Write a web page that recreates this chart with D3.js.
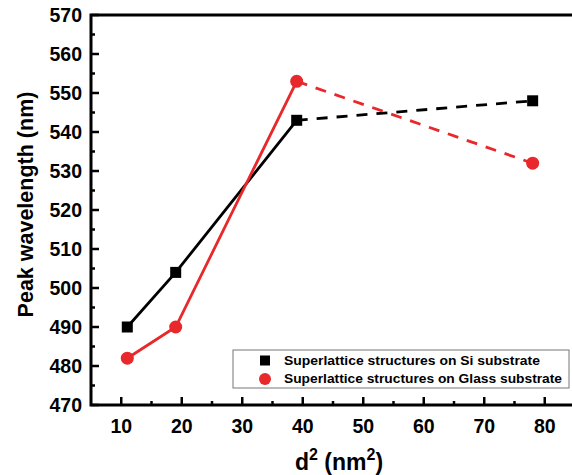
<!DOCTYPE html>
<html>
<head>
<meta charset="utf-8">
<script src="https://cdn.jsdelivr.net/npm/d3@7"></script>
<style>
  body { margin: 0; background: #fff; }
  svg { font-family: "Liberation Sans", Arial, sans-serif; font-weight: bold; }
</style>
</head>
<body>
<div id="chart"></div>
<script>
// data
const dSquared = [11, 19, 39, 78]
const siPeak = [490, 504, 543, 548]
const glassPeak = [482, 490, 553, 532]
const xTicks = [10, 20, 30, 40, 50, 60, 70, 80]
const yTicks = [470, 480, 490, 500, 510, 520, 530, 540, 550, 560, 570]
const legendLabels = ['Superlattice structures on Si substrate', 'Superlattice structures on Glass substrate']

const W = 572, H = 475
const margin = {top: 15, right: -3, bottom: 70, left: 91}
const red = '#e8282b'

const svg = d3.select('#chart').append('svg')
    .attr('width', W)
    .attr('height', H)

const x = d3.scaleLinear().domain([5, 85]).range([margin.left, W - margin.right])
const y = d3.scaleLinear().domain([470, 570]).range([H - margin.bottom, margin.top])

// minor ticks every 5
const xMinor = d3.range(15, 85, 10)
const yMinor = d3.range(475, 570, 10)

const g = svg.append('g')

// major ticks (inward)
g.selectAll('line.xt').data(xTicks).enter().append('line')
    .attr('x1', d => x(d)).attr('x2', d => x(d))
    .attr('y1', y(470)).attr('y2', y(470) - 8)
    .attr('stroke', '#000').attr('stroke-width', 2.5)
g.selectAll('line.xm').data(xMinor).enter().append('line')
    .attr('x1', d => x(d)).attr('x2', d => x(d))
    .attr('y1', y(470)).attr('y2', y(470) - 4)
    .attr('stroke', '#000').attr('stroke-width', 2.5)
g.selectAll('line.yt').data(yTicks).enter().append('line')
    .attr('y1', d => y(d)).attr('y2', d => y(d))
    .attr('x1', x(5)).attr('x2', x(5) + 8)
    .attr('stroke', '#000').attr('stroke-width', 2.5)
g.selectAll('line.ym').data(yMinor).enter().append('line')
    .attr('y1', d => y(d)).attr('y2', d => y(d))
    .attr('x1', x(5)).attr('x2', x(5) + 4)
    .attr('stroke', '#000').attr('stroke-width', 2.5)

// frame
g.append('rect')
    .attr('x', x(5)).attr('y', y(570))
    .attr('width', x(85) - x(5)).attr('height', y(470) - y(570))
    .attr('fill', 'none').attr('stroke', '#000').attr('stroke-width', 3)

// tick labels
g.selectAll('text.xl').data(xTicks).enter().append('text')
    .attr('x', d => x(d)).attr('y', y(470) + 28)
    .attr('text-anchor', 'middle')
    .attr('font-size', 19.5)
    .text(d => d)
g.selectAll('text.yl').data(yTicks).enter().append('text')
    .attr('x', x(5) - 9).attr('y', d => y(d) + 7)
    .attr('text-anchor', 'end')
    .attr('font-size', 19.5)
    .text(d => d)

// axis titles
const xt = svg.append('text')
    .attr('x', 339).attr('y', 470)
    .attr('text-anchor', 'middle')
    .attr('font-size', 23)
xt.append('tspan').text('d')
xt.append('tspan').attr('font-size', 16).attr('dy', -10).text('2')
xt.append('tspan').attr('dy', 10).text(' (nm')
xt.append('tspan').attr('font-size', 16).attr('dy', -10).text('2')
xt.append('tspan').attr('dy', 10).text(')')

svg.append('text')
    .attr('transform', 'translate(33,204.5) rotate(-90)')
    .attr('text-anchor', 'middle')
    .attr('font-size', 21.5)
    .text('Peak wavelength (nm)')

// series
const series = [
    {vals: siPeak, color: '#000', shape: 'square'},
    {vals: glassPeak, color: red, shape: 'circle'}
]
const line = d3.line().x(d => x(d[0])).y(d => y(d[1]))

series.forEach(s => {
    const pts = dSquared.map((d, i) => [d, s.vals[i]])
    svg.append('path')
        .attr('d', line(pts.slice(0, 3)))
        .attr('fill', 'none').attr('stroke', s.color).attr('stroke-width', 2.8)
    svg.append('path')
        .attr('d', line(pts.slice(2)))
        .attr('fill', 'none').attr('stroke', s.color).attr('stroke-width', 2.8)
        .attr('stroke-dasharray', '11,9')
    if (s.shape === 'square') {
        svg.selectAll(null).data(pts).enter().append('rect')
            .attr('x', d => x(d[0]) - 5.5).attr('y', d => y(d[1]) - 5.5)
            .attr('width', 11).attr('height', 11)
            .attr('fill', s.color)
    } else {
        svg.selectAll(null).data(pts).enter().append('circle')
            .attr('cx', d => x(d[0])).attr('cy', d => y(d[1]))
            .attr('r', 6.5)
            .attr('fill', s.color)
    }
})

// legend
const lg = svg.append('g')
lg.append('rect')
    .attr('x', 233).attr('y', 350).attr('width', 336).attr('height', 38)
    .attr('fill', '#fff').attr('stroke', '#777').attr('stroke-width', 1)
lg.append('rect').attr('x', 260).attr('y', 355.5).attr('width', 10).attr('height', 10).attr('fill', '#000')
lg.append('circle').attr('cx', 265).attr('cy', 379).attr('r', 6).attr('fill', red)
lg.selectAll('text').data(legendLabels).enter().append('text')
    .attr('x', 284).attr('y', (d, i) => 365 + i * 18)
    .attr('font-size', 12.5)
    .attr('textLength', (d, i) => i === 0 ? 256 : 278)
    .attr('lengthAdjust', 'spacingAndGlyphs')
    .text(d => d)
</script>
</body>
</html>
